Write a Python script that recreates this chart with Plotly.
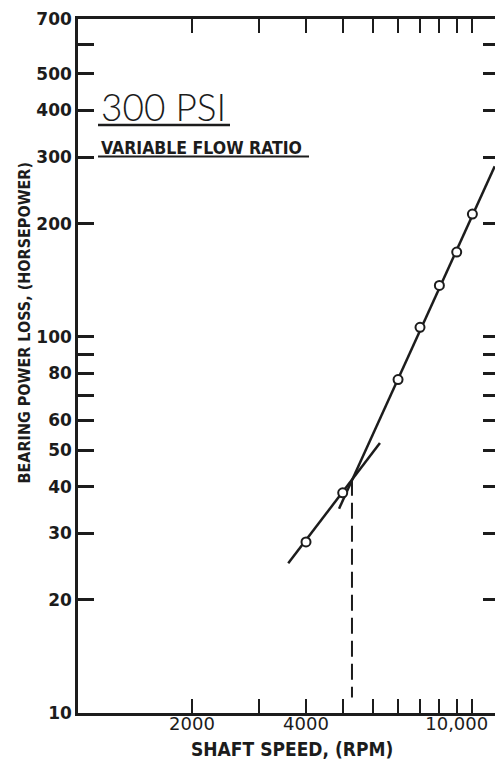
import plotly.graph_objects as go

# Measured bearing power loss at 300 psi, variable flow ratio
speed_rpm = [4000, 5000, 7000, 8000, 9000, 10000, 11000]
power_hp = [28.5, 38.5, 77, 106, 137, 168, 212]

# Faired lines for the two flow regimes
low_fit_rpm = [3590, 6270]
low_fit_hp = [25.0, 52.2]
high_fit_rpm = [4890, 12600]
high_fit_hp = [34.9, 284]

# Transition speed marker (dashed drop line)
transition_rpm = [5290, 5290]
transition_hp = [41.7, 11.0]

# Axis ticks and labels
x_tickvals = [2000, 3000, 4000, 5000, 6000, 7000, 8000, 9000, 10000, 11000]
x_ticktext = ["2000", "", "4000", "", "", "", "", "", "10,000", ""]
y_tickvals = [10, 20, 30, 40, 50, 60, 70, 80, 90, 100, 200, 300, 400, 500, 600, 700]
y_ticktext = ["10", "20", "30", "40", "50", "60", "", "80", "", "100",
              "200", "300", "400", "500", "", "700"]

INK = "#1c1c1c"
FONT = "DejaVu Sans"
COND = "DejaVu Sans Condensed, DejaVu Sans"

fig = go.Figure()

fig.add_trace(go.Scatter(x=low_fit_rpm, y=low_fit_hp, mode="lines",
                         line=dict(color=INK, width=2.5), hoverinfo="skip"))
fig.add_trace(go.Scatter(x=high_fit_rpm, y=high_fit_hp, mode="lines",
                         line=dict(color=INK, width=2.5), hoverinfo="skip"))
fig.add_trace(go.Scatter(x=transition_rpm, y=transition_hp, mode="lines",
                         line=dict(color=INK, width=2, dash="16px,7px"),
                         hoverinfo="skip"))
fig.add_trace(go.Scatter(x=speed_rpm, y=power_hp, mode="markers",
                         marker=dict(symbol="circle", size=9, color="white",
                                     line=dict(color=INK, width=2))))
# Carrier for the right-hand tick column
fig.add_trace(go.Scatter(x=speed_rpm, y=power_hp, mode="markers", yaxis="y2",
                         marker=dict(opacity=0), hoverinfo="skip"))

fig.update_layout(
    width=495, height=759,
    margin=dict(l=78, r=0, t=19, b=46),
    paper_bgcolor="white", plot_bgcolor="white",
    showlegend=False,
    font=dict(family=FONT, color=INK),
    xaxis=dict(
        type="log", range=[3, 4.1011],
        tickvals=x_tickvals, ticktext=x_ticktext,
        ticks="inside", ticklen=14, tickwidth=2, tickcolor=INK,
        showline=True, linewidth=2.5, linecolor=INK, mirror="ticks",
        showgrid=False, zeroline=False, ticklabelstandoff=-7,
        tickfont=dict(family=FONT, size=18, color=INK),
    ),
    yaxis=dict(
        type="log", range=[1, 2.8451],
        tickvals=y_tickvals, ticktext=y_ticktext,
        ticks="inside", ticklen=16, tickwidth=2.5, tickcolor=INK,
        showline=True, linewidth=2.5, linecolor=INK,
        showgrid=False, zeroline=False,
        tickfont=dict(family=FONT, size=17, color=INK, weight="bold"),
    ),
    yaxis2=dict(
        type="log", range=[1, 2.8451], overlaying="y", side="right",
        tickvals=y_tickvals, showticklabels=False,
        ticks="inside", ticklen=12, tickwidth=2.5, tickcolor=INK,
        showline=False, showgrid=False, zeroline=False,
    ),
)

annotations = [
    dict(text="SHAFT SPEED, (RPM)", x=0.5125, y=-0.052, xref="paper", yref="paper",
         showarrow=False, xanchor="center", yanchor="middle",
         font=dict(family=COND, size=19, color=INK, weight="bold")),
    dict(text="BEARING POWER LOSS, (HORSEPOWER)", x=-0.1283, y=0.562,
         xref="paper", yref="paper", textangle=-90, showarrow=False,
         xanchor="center", yanchor="middle",
         font=dict(family=COND, size=16, color=INK, weight="bold")),
    dict(text="300 PSI", x=0.05, y=0.8746, xref="paper", yref="paper",
         showarrow=False, xanchor="left", yanchor="middle",
         font=dict(family="Lato", size=37, color=INK, weight=300)),
    dict(text="VARIABLE FLOW RATIO", x=0.05, y=0.8141, xref="paper", yref="paper",
         showarrow=False, xanchor="left", yanchor="middle",
         font=dict(family=COND, size=17.5, color=INK, weight="bold")),
]
fig.update_layout(annotations=annotations)

# Underlines beneath the two captions
fig.add_shape(type="line", xref="paper", yref="paper",
              x0=0.048, x1=0.3645, y0=0.8473, y1=0.8473,
              line=dict(color=INK, width=2.5))
fig.add_shape(type="line", xref="paper", yref="paper",
              x0=0.048, x1=0.554, y0=0.8019, y1=0.8019,
              line=dict(color=INK, width=2))

fig.write_html("out.html")
